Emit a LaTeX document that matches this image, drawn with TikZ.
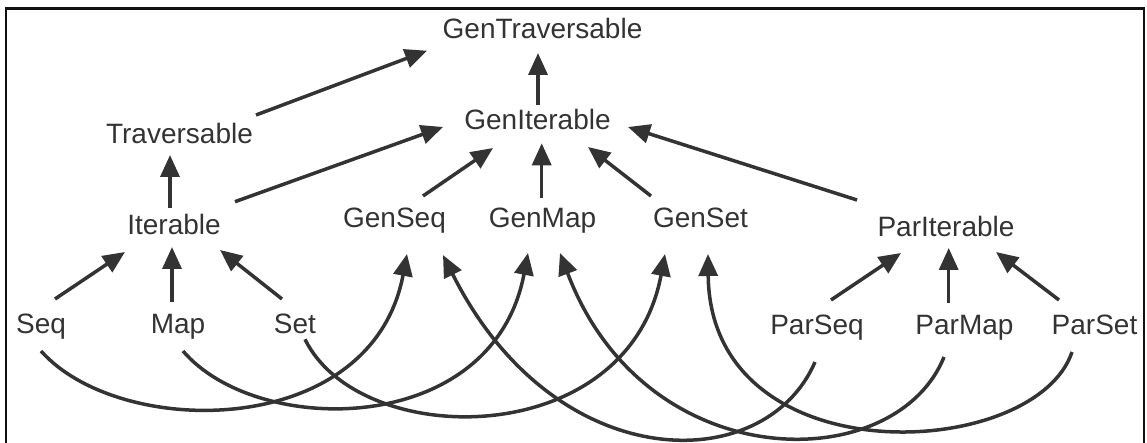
\documentclass[tikz,border=0pt]{standalone}
\usepackage{fontspec}
\setmainfont{Liberation Sans}
\usetikzlibrary{arrows.meta,calc}
\definecolor{ink}{HTML}{333333}
\definecolor{frame}{HTML}{111111}
\begin{document}
\begin{tikzpicture}[x=1pt,y=-1pt,
  lbl/.style={inner sep=0pt, anchor=base, text=ink, font=\fontsize{28}{34}\selectfont},
  arr/.style={draw=ink, line width=3.5pt, -{Triangle[length=22pt,width=19pt]}, fill=ink},
  carr/.style={draw=ink, line width=3.5pt, -{Triangle[length=22pt,width=19pt]}}
]
\useasboundingbox (0,0) rectangle (1147,443);
\draw[frame, line width=2.6pt] (6,445) -- (6,8.3) -- (1144,8.3) -- (1144,445);

\node[lbl] (gtrav) at (542.5,39) {GenTraversable};
\node[lbl] (giter) at (537.5,129.3) {GenIterable};
\node[lbl] (trav) at (179.5,144) {Traversable};
\node[lbl] (iter) at (174,235) {Iterable};
\node[lbl] (gseq) at (394.5,228) {GenSeq};
\node[lbl] (gmap) at (542.5,228) {GenMap};
\node[lbl] (gset) at (700.5,228) {GenSet};
\node[lbl] (piter) at (946,237) {ParIterable};
\node[lbl] (seq) at (41,333.3) {Seq};
\node[lbl] (map) at (178,333.3) {Map};
\node[lbl] (set) at (295,333.3) {Set};
\node[lbl] (pseq) at (817,334) {ParSeq};
\node[lbl] (pmap) at (964.5,334) {ParMap};
\node[lbl] (pset) at (1094.5,334) {ParSet};

% straight arrows
\draw[carr] ($(trav.base)+(76.5,-29)$) -- ($(gtrav.base)+(-115.5,11.7)$);
\draw[carr] ($(giter.base)+(0.5,-24.3)$) -- ($(gtrav.base)+(-4.5,14)$);
\draw[carr] ($(iter.base)+(-4,-27)$) -- ($(trav.base)+(-9.5,11)$);
\draw[carr] ($(iter.base)+(61,-33.3)$) -- ($(giter.base)+(-94.5,-2.3)$);
\draw[carr] ($(gseq.base)+(28.5,-32)$) -- ($(giter.base)+(-44.5,18.7)$);
\draw[carr] ($(gmap.base)+(-0.8,-30)$) -- ($(giter.base)+(4.2,14)$);
\draw[carr] ($(gset.base)+(-49.5,-32)$) -- ($(giter.base)+(50.5,17.7)$);
\draw[carr] ($(piter.base)+(-89,-37)$) -- ($(giter.base)+(90.5,-2.3)$);
\draw[carr] ($(seq.base)+(14,-34.3)$) -- ($(iter.base)+(-49,17)$);
\draw[carr] ($(map.base)+(-6,-31.3)$) -- ($(iter.base)+(-2,12)$);
\draw[carr] ($(set.base)+(-13,-34.3)$) -- ($(iter.base)+(46,15)$);
\draw[carr] ($(pseq.base)+(14,-34)$) -- ($(piter.base)+(-45,16)$);
\draw[carr] ($(pmap.base)+(-15.8,-31)$) -- ($(piter.base)+(2.7,11)$);
\draw[carr] ($(pset.base)+(-35.5,-34)$) -- ($(piter.base)+(50,15)$);

% curved arrows
\draw[carr] ($(seq.base)+(0,17.7)$) .. controls +(79,89) and +(-35,186) .. ($(gseq.base)+(12.5,26)$);
\draw[carr] ($(map.base)+(5,17.7)$) .. controls +(74,87) and +(-35,185) .. ($(gmap.base)+(-14.5,25)$);
\draw[carr] ($(set.base)+(10,6)$) .. controls +(55,112) and +(-37,198) .. ($(gset.base)+(-35.5,26)$);
\draw[carr] ($(pseq.base)+(-2,28)$) .. controls +(-50,116) and +(112,223) .. ($(gseq.base)+(48.5,27)$);
\draw[carr] ($(pmap.base)+(-20.5,23)$) .. controls +(-49,121) and +(85,225) .. ($(gmap.base)+(17.5,25)$);
\draw[carr] ($(pset.base)+(-22.5,18)$) .. controls +(-37,110) and +(2,224) .. ($(gset.base)+(7.5,26)$);
\end{tikzpicture}
\end{document}
